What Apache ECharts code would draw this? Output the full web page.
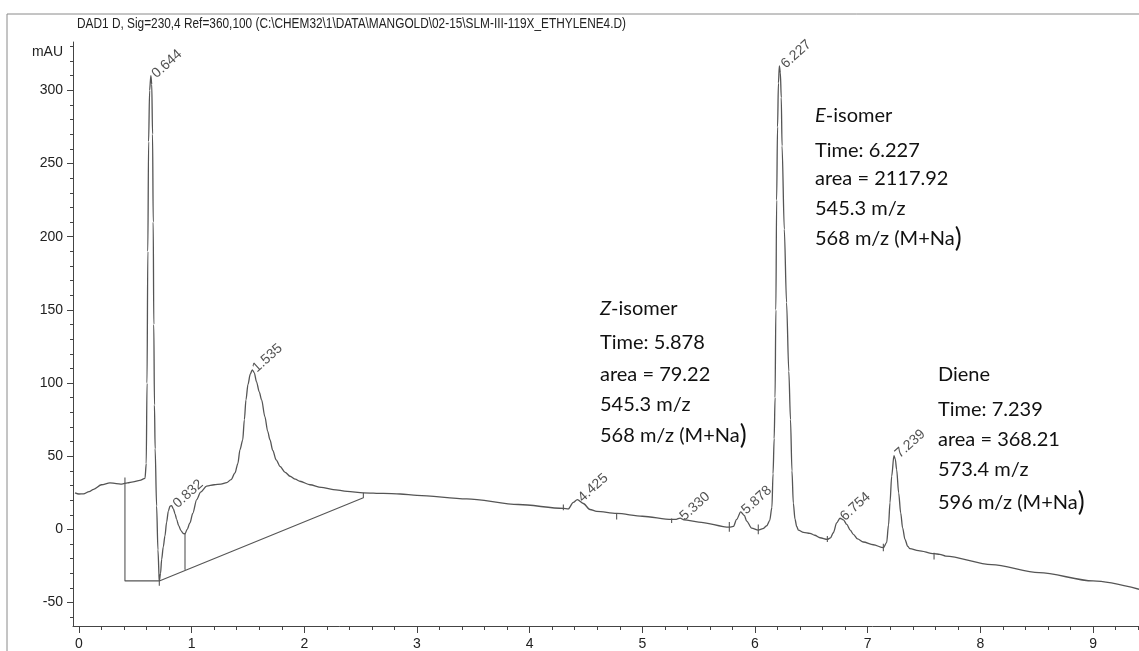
<!DOCTYPE html>
<html>
<head>
<meta charset="utf-8">
<script src="https://cdn.jsdelivr.net/npm/echarts@6/dist/echarts.min.js"></script>
<style>
html,body{margin:0;padding:0;background:#ffffff;}
#chart{width:1139px;height:651px;}
</style>
</head>
<body>
<div id="chart"></div>
<script>
// ---- chromatogram trace (retention time, min / signal, mAU) ----
const traceTime = [
  -0.035, 0.000, 0.040, 0.090, 0.130, 0.200, 0.275, 0.330, 0.380, 0.430, 0.480, 0.540, 0.586,
  0.597, 0.604, 0.611, 0.618, 0.627, 0.638, 0.646, 0.653, 0.659, 0.664, 0.670, 0.676, 0.689, 0.701, 0.713,
  0.724, 0.734, 0.748, 0.763, 0.778, 0.793, 0.808, 0.822, 0.838, 0.853, 0.867, 0.885, 0.905, 0.925, 0.941,
  0.960, 0.985, 1.010, 1.045, 1.080, 1.133, 1.200, 1.260, 1.311, 1.350, 1.385, 1.410, 1.429, 1.453,
  1.468, 1.482, 1.500, 1.520, 1.538, 1.556, 1.575, 1.600, 1.621, 1.650, 1.675, 1.695, 1.720, 1.750,
  1.784, 1.830, 1.873, 1.920, 1.961, 2.050, 2.150, 2.256, 2.380, 2.524, 2.700, 2.850, 3.000, 3.441,
  3.900, 4.299, 4.343, 4.387, 4.423, 4.476, 4.535, 4.595, 4.772, 5.000, 5.260, 5.300, 5.335, 5.370,
  5.500, 5.772, 5.808, 5.837, 5.873, 5.905, 5.926, 5.970, 6.029, 6.070, 6.104, 6.130, 6.150, 6.160,
  6.170, 6.178, 6.185, 6.192, 6.200, 6.208, 6.216, 6.225, 6.233, 6.240, 6.260, 6.280, 6.300, 6.315,
  6.328, 6.340, 6.355, 6.370, 6.385, 6.430, 6.488, 6.530, 6.577, 6.642, 6.670, 6.695, 6.725, 6.754,
  6.785, 6.814, 6.845, 6.873, 6.910, 6.961, 7.050, 7.139, 7.168, 7.185, 7.198, 7.213, 7.233, 7.245,
  7.257, 7.275, 7.293, 7.310, 7.331, 7.355, 7.375, 7.450, 7.589, 7.640, 7.692, 8.100, 8.521, 9.000, 9.408
];
const traceSignal = [
  25.0, 24.2, 24.3, 25.8, 27.4, 30.5, 31.8, 31.3, 31.0, 31.8, 32.5, 33.5, 34.8,
  45, 100, 190, 265, 300, 310, 304, 270, 210, 140, 85, 55, 16, -14, -35.2,
  -30, -20.4, -12, -4.5, 5, 12.5, 15.8, 16.3, 14, 10.5, 6.8, 2.5, -0.8, -2.8, -3.0,
  0, 4.5, 11, 20.4, 25.5, 29.5, 30.5, 31, 32, 34, 38.6, 45, 54.5, 61,
  75, 88.5, 99, 106, 109, 107, 101, 94, 88.5, 77, 67, 61.3, 54, 47.5,
  43.1, 39, 36.3, 34.3, 32.9, 30.5, 28.7, 27.2, 26.0, 25.0, 24.6, 24.2, 23.3, 20.9,
  17.0, 14.3, 14.0, 18.5, 20.4, 17.7, 13.6, 12.3, 10.9, 9.0, 6.8, 6.9, 7.7, 6.5,
  5.0, 1.5, 2.0, 6.8, 12.0, 9.5, 5.7, 0.9, -0.5, 0.5, 2.5, 6, 15, 38,
  62, 90, 150, 225, 275, 305, 316.6, 312, 295, 262, 205, 155, 108, 75,
  40, 18, 7, 2, -0.5, -2.0, -2.7, -4.0, -5.7, -6.8, -5.8, -2.3, 4.5, 7.6,
  6.5, 3.4, -0.5, -3.4, -6.5, -8.6, -10.5, -12.5, -9.1, 3, 18.2, 36.3, 50.4, 48,
  40.9, 25, 11.3, 1, -6.8, -11.5, -13.2, -14.5, -16.6, -17.0, -18.2, -24, -29.5, -35.2, -40.9
];

// ---- integrated peaks (retention time label / apex height) ----
const peakTimes = [0.644, 0.832, 1.535, 4.425, 5.330, 5.878, 6.227, 6.754, 7.239];
const peakApex  = [310, 16.3, 109, 20.4, 7.7, 12.0, 316.6, 7.6, 50.4];

// ---- integration baselines drawn by the software ----
const baselineTime   = [0.408, 0.408, 0.713, 2.524, 2.524];
const baselineSignal = [35.4, -35.2, -35.2, 21.6, 25.0];
const dropTime   = [0.941, 0.713];
const dropTop    = [-3.0, -31.0];
const dropBottom = [-27.6, -38.5];
const eventTime   = [4.299, 4.772, 5.260, 5.772, 6.029, 6.642, 7.139, 7.589];
const eventTop    = [17.0, 10.9, 7.5, 5.0, 3.4, -4.5, -9.8, -16.0];
const eventBottom = [13.0, 6.8, 4.3, -1.6, -3.4, -8.6, -15.0, -20.5];

// ---- axes ----
const xTickLabels = [0, 1, 2, 3, 4, 5, 6, 7, 8, 9];
const yTickLabels = [-50, 0, 50, 100, 150, 200, 250, 300];

// ---- annotation text ----
const titleText = 'DAD1 D, Sig=230,4 Ref=360,100 (C:\\CHEM32\\1\\DATA\\MANGOLD\\02-15\\SLM-III-119X_ETHYLENE4.D)';
const eIsomerLines = ['{i|E}-isomer', 'Time: 6.227', 'area = 2117.92', '545.3 m/z', '568 m/z (M+Na{p|)}'];
const zIsomerLines = ['{i|Z}-isomer', 'Time: 5.878', 'area = 79.22', '545.3 m/z', '568 m/z (M+Na{p|)}'];
const dieneLines   = ['Diene', 'Time: 7.239', 'area = 368.21', '573.4 m/z', '596 m/z (M+Na{p|)}'];

// ---------------------------------------------------------------
const X_MIN = -0.053, X_MAX = 9.408, Y_MIN = -66, Y_MAX = 333;
const NARROW = "'Liberation Sans Narrow', 'Arial Narrow', 'Liberation Sans', Arial, sans-serif";
const ANNOT = "Lato, 'Open Sans', sans-serif";

const trace = traceTime.map((t, i) => [t, traceSignal[i]]);
const peaks = peakTimes.map((t, i) => [t, peakApex[i]]);

const integ = [];
baselineTime.forEach((t, i) => integ.push([t, baselineSignal[i]]));
integ.push(['-', '-']);
dropTime.forEach((t, i) => { integ.push([t, dropTop[i]]); integ.push([t, dropBottom[i]]); integ.push(['-', '-']); });
eventTime.forEach((t, i) => { integ.push([t, eventTop[i]]); integ.push([t, eventBottom[i]]); integ.push(['-', '-']); });

const minorX = [];
for (let k = 0; k <= 47; k++) minorX.push(+(k * 0.2).toFixed(1));
const minorY = [];
for (let v = -60; v <= 330; v += 10) minorY.push(v);

function block(lines, x, ys) {
  return lines.map((s, i) => ({
    type: 'text', x: x, y: ys[i], silent: true,
    style: {
      text: s, align: 'left', verticalAlign: 'middle',
      fontFamily: ANNOT, fontSize: 20, fill: '#111',
      rich: {
        i: { fontStyle: 'italic', fontFamily: ANNOT, fontSize: 20, fill: '#111' },
        p: { fontFamily: ANNOT, fontSize: 26, fill: '#111' }
      }
    }
  }));
}

const chart = echarts.init(document.getElementById('chart'), null, { renderer: 'canvas' });
chart.setOption({
  backgroundColor: '#ffffff',
  animation: false,
  grid: { left: 73, right: 0, top: 42, bottom: 24, containLabel: false },
  xAxis: [
    {
      type: 'value', min: X_MIN, max: X_MAX, position: 'bottom',
      axisLine: { show: true, onZero: false, lineStyle: { color: '#444', width: 1 } },
      axisTick: { show: true, customValues: xTickLabels, length: 7, inside: false, lineStyle: { color: '#444' } },
      axisLabel: { show: true, customValues: xTickLabels, margin: 11, fontFamily: NARROW, fontSize: 14, color: '#222' },
      splitLine: { show: false }
    },
    {
      type: 'value', min: X_MIN, max: X_MAX, position: 'bottom',
      axisLine: { show: false, onZero: false },
      axisTick: { show: true, customValues: minorX, length: 4, lineStyle: { color: '#444' } },
      axisLabel: { show: false },
      splitLine: { show: false }
    }
  ],
  yAxis: [
    {
      type: 'value', min: Y_MIN, max: Y_MAX, position: 'left',
      axisLine: { show: true, onZero: false, lineStyle: { color: '#444', width: 1 } },
      axisTick: { show: true, customValues: yTickLabels, length: 6, lineStyle: { color: '#444' } },
      axisLabel: { show: true, customValues: yTickLabels, margin: 10, fontFamily: NARROW, fontSize: 14, color: '#222' },
      splitLine: { show: false }
    },
    {
      type: 'value', min: Y_MIN, max: Y_MAX, position: 'left',
      axisLine: { show: false, onZero: false },
      axisTick: { show: true, customValues: minorY, length: 3, lineStyle: { color: '#444' } },
      axisLabel: { show: false },
      splitLine: { show: false }
    }
  ],
  series: [
    {
      name: 'signal', type: 'line', xAxisIndex: 0, yAxisIndex: 0,
      data: trace, showSymbol: false, symbol: 'none',
      smooth: 0.3, smoothMonotone: 'x',
      lineStyle: { color: '#555', width: 1.3 }, z: 3
    },
    {
      name: 'integration', type: 'line', xAxisIndex: 0, yAxisIndex: 0,
      data: integ, showSymbol: false, symbol: 'none', connectNulls: false,
      lineStyle: { color: '#555', width: 1.1 }, z: 2
    },
    {
      name: 'peaks', type: 'scatter', xAxisIndex: 0, yAxisIndex: 0,
      data: peaks, symbolSize: 1, itemStyle: { color: 'rgba(0,0,0,0)' },
      label: {
        show: true, position: 'right', distance: 2, rotate: 42,
        formatter: p => p.value[0].toFixed(3),
        fontFamily: NARROW, fontSize: 14, color: '#262626'
      },
      z: 4
    }
  ],
  graphic: [
    { type: 'rect', silent: true, shape: { x: 7, y: 14, width: 1200, height: 700 },
      style: { fill: 'none', stroke: '#8a8a8a', lineWidth: 1 } },
    { type: 'text', x: 77, y: 24, scaleX: 0.846, silent: true,
      style: { text: titleText, align: 'left', verticalAlign: 'middle', fontFamily: NARROW, fontSize: 14, fill: '#222' } },
    { type: 'text', x: 63, y: 52, silent: true,
      style: { text: 'mAU', align: 'right', verticalAlign: 'middle', fontFamily: NARROW, fontSize: 14, fill: '#222' } }
  ]
    .concat(block(eIsomerLines, 815, [116, 151, 179, 209, 239]))
    .concat(block(zIsomerLines, 600, [309, 343, 375, 405, 436]))
    .concat(block(dieneLines, 938, [375, 410, 440, 470, 503]))
});
</script>
</body>
</html>
